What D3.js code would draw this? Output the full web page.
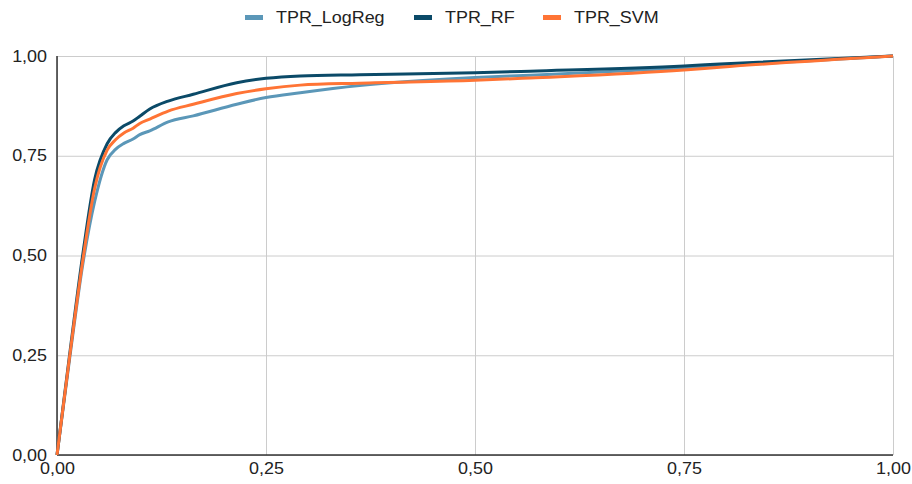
<!DOCTYPE html>
<html>
<head>
<meta charset="utf-8">
<script src="https://cdn.jsdelivr.net/npm/d3@7"></script>
<style>
  body { margin: 0; background: #fff; }
  svg { font-family: "Liberation Sans", Arial, sans-serif; }
</style>
</head>
<body>
<div id="chart"></div>
<script>
// False positive rate grid shared by the three curves
const fpr = [0, 0.015, 0.031, 0.045, 0.06, 0.07, 0.08, 0.091, 0.099, 0.111, 0.133, 0.163, 0.215, 0.25, 0.291, 0.362, 0.5, 0.566, 0.75, 0.793, 1];

const tprLogReg = [0, 0.24, 0.48, 0.635, 0.74, 0.766, 0.781, 0.792, 0.803, 0.8125, 0.835, 0.85, 0.879, 0.896, 0.908, 0.926, 0.946, 0.952, 0.97, 0.975, 1];
const tprRF     = [0, 0.25, 0.505, 0.69, 0.78, 0.808, 0.825, 0.837, 0.849, 0.867, 0.887, 0.904, 0.933, 0.944, 0.95, 0.953, 0.958, 0.962, 0.975, 0.98, 1];
const tprSVM    = [0, 0.245, 0.49, 0.668, 0.764, 0.79, 0.807, 0.819, 0.831, 0.842, 0.862, 0.879, 0.906, 0.918, 0.927, 0.932, 0.939, 0.945, 0.965, 0.972, 1];

const seriesNames = ['TPR_LogReg', 'TPR_RF', 'TPR_SVM'];
const seriesColors = ['#5b97b8', '#0b4a68', '#ff7435'];
const ticks = [0, 0.25, 0.5, 0.75, 1];

const width = 912, height = 484;
const margin = { top: 56, right: 19, bottom: 29, left: 57 };
const innerW = width - margin.left - margin.right;
const innerH = height - margin.top - margin.bottom;
const stretch = 1.12; // text in the reference is a bit wider than plain Arial

const svg = d3.select('#chart')
  .append('svg')
  .attr('width', width)
  .attr('height', height);

const g = svg.append('g')
  .attr('transform', `translate(${margin.left},${margin.top})`);

const xScale = d3.scaleLinear().domain([0, 1]).range([0, innerW]);
const yScale = d3.scaleLinear().domain([0, 1]).range([innerH, 0]);
const fmt = d => d3.format('.2f')(d).replace('.', ',');

function widen(sel) {
  sel.each(function () {
    const len = this.getComputedTextLength();
    d3.select(this)
      .attr('textLength', len * stretch)
      .attr('lengthAdjust', 'spacingAndGlyphs');
  });
}

// Gridlines
g.append('g')
  .call(d3.axisLeft(yScale).tickValues(ticks).tickSize(-innerW).tickFormat(''))
  .call(a => a.select('.domain').remove())
  .selectAll('line').attr('stroke', '#cccccc');

g.append('g')
  .attr('transform', `translate(0,${innerH})`)
  .call(d3.axisBottom(xScale).tickValues(ticks).tickSize(-innerH).tickFormat(''))
  .call(a => a.select('.domain').remove())
  .selectAll('line').attr('stroke', '#cccccc');

// Axis lines
g.append('line')
  .attr('x1', 0).attr('x2', 0).attr('y1', 0).attr('y2', innerH)
  .attr('stroke', '#333').attr('stroke-width', 1.5);
g.append('line')
  .attr('x1', 0).attr('x2', innerW).attr('y1', innerH).attr('y2', innerH)
  .attr('stroke', '#333').attr('stroke-width', 1.5);

// Tick labels
g.append('g')
  .call(d3.axisLeft(yScale).tickValues(ticks).tickSize(0).tickPadding(10).tickFormat(fmt))
  .call(a => a.select('.domain').remove())
  .selectAll('text')
  .style('font-size', '16px')
  .attr('font-family', '"Liberation Sans", Arial, sans-serif')
  .attr('fill', '#222')
  .call(widen);

g.append('g')
  .attr('transform', `translate(0,${innerH})`)
  .call(d3.axisBottom(xScale).tickValues(ticks).tickSize(0).tickPadding(8).tickFormat(fmt))
  .call(a => a.select('.domain').remove())
  .selectAll('text')
  .style('font-size', '16px')
  .attr('font-family', '"Liberation Sans", Arial, sans-serif')
  .attr('fill', '#222')
  .call(widen);

// Curves
const allTpr = [tprLogReg, tprRF, tprSVM];
const line = d3.line()
  .x(d => xScale(d[0]))
  .y(d => yScale(d[1]))
  .curve(d3.curveMonotoneX);

allTpr.forEach((tpr, i) => {
  g.append('path')
    .datum(fpr.map((f, j) => [f, tpr[j]]))
    .attr('fill', 'none')
    .attr('stroke', seriesColors[i])
    .attr('stroke-width', 3)
    .attr('stroke-linejoin', 'round')
    .attr('d', line);
});

// Legend
const legendX = [245, 414, 543];
const legend = svg.append('g').attr('class', 'legend');
seriesNames.forEach((name, i) => {
  legend.append('rect')
    .attr('x', legendX[i])
    .attr('y', 15)
    .attr('width', 18)
    .attr('height', 5)
    .attr('fill', seriesColors[i]);
  legend.append('text')
    .attr('x', legendX[i] + 31)
    .attr('y', 23)
    .style('font-size', '16px')
    .attr('fill', '#222')
    .text(name)
    .call(widen);
});
</script>
</body>
</html>
